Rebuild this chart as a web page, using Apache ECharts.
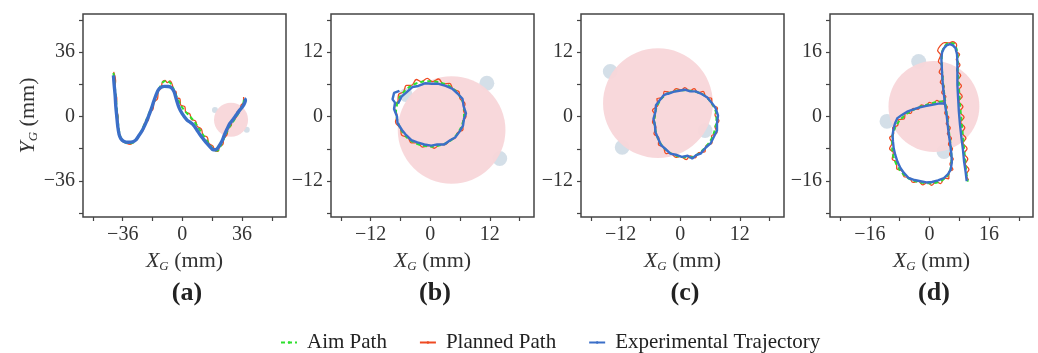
<!DOCTYPE html>
<html>
<head>
<meta charset="utf-8">
<title>trajectories</title>
<script src="https://cdn.jsdelivr.net/npm/echarts@6/dist/echarts.min.js"></script>
<style>
  html, body { margin: 0; padding: 0; background: #fff; }
  #traj-chart { width: 1038px; height: 353px; }
</style>
</head>
<body>
<div id="traj-chart"></div>
<script>
// ---- panel axes ----
var panelLabels = ["(a)", "(b)", "(c)", "(d)"];
var xRanges = [[-60, 62.6], [-20, 20.9], [-20, 20.9], [-26.7, 27.8]];
var yRanges = [[-56.2, 57.4], [-18.7, 19.1], [-18.7, 19.1], [-25, 25.5]];
var tickValues = [
  [-54, -36, -18, 0, 18, 36, 54],
  [-18, -12, -6, 0, 6, 12, 18],
  [-18, -12, -6, 0, 6, 12, 18],
  [-24, -16, -8, 0, 8, 16, 24]
];
var labelValues = [[-36, 0, 36], [-12, 0, 12], [-12, 0, 12], [-16, 0, 16]];

// ---- robot disk + wheel bumps  [x, y, radius] ----
var diskA = [[29.4, -1.8, 10.3]];
var diskB = [[4.3, -2.5, 10.85]];
var diskC = [[-4.5, 2.5, 11.06]];
var diskD = [[1.2, 2.5, 12.2]];
var bumpsA = [[19.7, 3.7, 1.8], [38.9, -7.4, 1.8]];
var bumpsB = [[11.4, 6.2, 1.5], [-4.9, 4.0, 1.4], [14.0, -7.8, 1.5]];
var bumpsC = [[-14.1, 8.4, 1.5], [-11.7, -5.7, 1.5], [5.0, -2.6, 1.5]];
var bumpsD = [[-2.9, 13.7, 2.0], [-11.4, -1.2, 2.0], [3.9, -8.7, 2.0]];

// ---- (a) ----
var aimA = [[-41.6,24.5],[-40.8,17],[-40,9],[-39.3,1],[-38.5,-6],[-37.5,-11],[-35.5,-14],[-32.5,-15],[-29.5,-14.5],[-27,-12],[-25,-8.5],[-22.5,-3.5],[-20,2],[-17.5,7.5],[-15.5,12.5],[-13.5,16.5],[-11.5,19.5],[-9.5,20],[-7.5,19],[-6,17],[-4.5,13.5],[-2.8,10],[-1,6.5],[1.6,3],[4.5,0.2],[7,-2.5],[9.5,-6],[12,-9.5],[14.5,-13],[17,-16.2],[19.3,-18.8],[21.3,-19],[22.8,-17],[24.3,-14],[26,-10.5],[28,-6.5],[30.3,-3.3],[32.7,0],[35,3.5],[36.7,6.8],[37.3,10.5]];
var plannedA = [[-41.5,25],[-40.3,20],[-41,15],[-39.6,10],[-40.2,5],[-38.8,0],[-39.3,-5],[-37.8,-10],[-36.5,-13.5],[-34,-14.8],[-31.5,-15.5],[-29,-14],[-27,-12.5],[-26,-10],[-23.5,-7.5],[-23,-4],[-20.5,-2],[-20,2],[-17.8,4],[-17,8],[-15,10],[-14.5,14],[-12.8,16],[-12,19.5],[-10.5,20.2],[-9,19],[-7.5,20],[-6,17.5],[-5.5,14.5],[-3.8,14],[-3.5,10.5],[-1.5,10],[-1,6.5],[1.5,5.5],[2,2.5],[4.5,1.5],[5.5,-1.5],[8,-2.5],[9,-5.5],[11.5,-7],[12.5,-10.5],[15,-11.5],[16,-15],[18.5,-16.5],[19.5,-19],[21.5,-19.5],[22.5,-17],[24.5,-15.5],[25,-12.5],[27,-10],[27.5,-7],[29.5,-5],[30,-2],[32.5,-0.5],[33,2.5],[35,3.5],[35.5,6.5],[37,8],[37,11]];
var expA = [[-41.6,23],[-41.2,18],[-40.6,12],[-40.2,6],[-39.6,0],[-39,-5.5],[-38.2,-10],[-37.2,-12.3],[-35.5,-13.8],[-32.6,-14.4],[-30,-14.2],[-28.2,-13.2],[-26.5,-11],[-24.5,-8.2],[-22.5,-4.5],[-20.5,0],[-18.8,4.2],[-17.3,8.4],[-15.8,12.3],[-14.4,15.1],[-12.8,16.4],[-10.8,16.9],[-8.5,16.8],[-6.6,16.1],[-5,14],[-3.6,9.5],[-2,5],[-0.2,1.8],[2.7,-1.8],[5,-3.4],[6.6,-4.6],[8.6,-7.2],[10.7,-10.2],[12.7,-12.6],[14.7,-14.9],[16.8,-17],[18.7,-18.6],[20.5,-18.4],[21.8,-17],[23.8,-14],[25.4,-10.3],[27,-7],[28.6,-4],[30.5,-1.8],[32.6,1],[34.6,3.6],[36.4,5.6],[37.6,7.6],[38.1,9.3],[37.4,10]];

// ---- (b) ----
var aimB = [[-6.6,2.6],[-6.9,1],[-6.6,-0.8],[-5.9,-2.4],[-4.8,-3.8],[-3.3,-4.8],[-1.6,-5.4],[0.3,-5.6],[2.2,-5.3],[3.9,-4.6],[5.3,-3.4],[6.3,-1.8],[6.8,0],[6.8,1.8],[6.2,3.4],[5.1,4.8],[3.6,5.8],[1.8,6.4],[-0.1,6.6],[-2,6.4],[-3.7,5.8],[-5.1,4.8],[-6.2,3.6],[-6.7,2.4]];
var plannedB = [[-6.4,2.9],[-7.2,1.6],[-6.7,0.2],[-7,-1],[-6,-2.2],[-5.8,-3.4],[-4.5,-3.9],[-3.8,-4.9],[-2.5,-4.9],[-1.6,-5.7],[-0.2,-5.4],[0.8,-5.9],[2,-5.2],[3,-5.2],[4,-4.4],[5,-4],[5.5,-3],[6.6,-2.4],[6.5,-1],[7.2,0],[6.7,1.2],[7,2.4],[6,3.3],[5.8,4.6],[4.6,5.1],[3.9,6.2],[2.6,6.1],[1.7,7],[0.4,6.5],[-0.6,7.1],[-1.8,6.5],[-2.8,6.9],[-3.8,5.8],[-4.8,5.8],[-5.4,4.6],[-6.4,4.1],[-6.5,2.8]];
var expB = [[-6.2,4.8],[-7.3,4.4],[-7.6,3.2],[-7.1,2.6],[-7.3,1.4],[-6.7,0],[-6.6,-1.2],[-5.7,-2.5],[-5,-3.3],[-3.8,-4.4],[-2.6,-4.8],[-1.2,-5.2],[0.2,-5.4],[1.4,-5.2],[2.8,-5.2],[4,-4.4],[5,-3.9],[5.9,-2.8],[6.6,-1.7],[6.8,-0.4],[7.2,0.6],[6.7,2],[6.5,3.3],[5.5,4.3],[4.4,5.2],[3.1,5.7],[1.7,6.1],[0.3,6.1],[-1.1,6.2],[-2.4,5.7],[-3.6,5.5],[-4.8,4.5],[-5.8,3.7],[-6.5,2.4]];

// ---- (c) ----
var aimC = [[-2.5,4.3],[-0.8,4.8],[0.9,4.9],[2.6,4.7],[4.2,4.3],[5.6,3.3],[6.7,1.9],[7.3,0.3],[7.2,-1.4],[6.8,-3],[6,-4.6],[4.8,-6],[3.4,-7.1],[1.8,-7.6],[0,-7.5],[-1.8,-6.9],[-3.3,-5.8],[-4.4,-4.3],[-5,-2.5],[-5.2,-0.6],[-4.9,1.3],[-4.2,2.8],[-3.3,3.8],[-2.3,4.4]];
var plannedC = [[-2.6,4.6],[-1.8,4.5],[-0.8,5.2],[0.2,4.9],[0.9,5.4],[1.9,4.8],[2.8,5.2],[3.6,4.4],[4.6,4.7],[5.2,3.6],[6.3,3.4],[6.4,2.2],[7.5,1.6],[7,0.3],[7.8,-0.8],[7,-1.8],[7.4,-3],[6.3,-3.6],[6.4,-4.9],[5.2,-5.4],[4.9,-6.6],[3.7,-6.7],[3,-7.7],[2,-7.3],[1.2,-8],[0,-7.4],[-0.9,-7.6],[-2,-6.8],[-2.9,-6.9],[-3.4,-5.7],[-4.4,-5.2],[-4.3,-4],[-5.3,-3.2],[-4.9,-2],[-5.6,-1],[-5,0.2],[-5.6,1.2],[-4.5,2.1],[-4.7,3.3],[-3.5,3.6],[-3.2,4.7],[-2.4,4.6]];
var expC = [[-2.6,4.2],[-1.4,4.6],[-0.2,4.8],[0.9,5],[2,4.7],[3.1,4.7],[4.3,4.2],[5.4,3.6],[6.4,2.5],[7.1,1.6],[7.6,0.2],[7.4,-1.2],[7.4,-2.6],[6.7,-3.9],[6.1,-5],[5.1,-5.8],[4.1,-6.9],[3.2,-7.2],[2.4,-7.8],[1.5,-7.3],[0.3,-7.5],[-0.9,-7.1],[-2,-6.9],[-3,-6],[-3.9,-5.3],[-4.5,-4],[-5,-2.9],[-5.1,-1.6],[-5.4,-0.4],[-5,0.9],[-4.9,2.1],[-4.1,3.1],[-3.3,4],[-2.5,4.3]];

// ---- (d) ----
var aimD = [[3.6,3.8],[1.8,3.6],[0,3.1],[-2,2.6],[-4,1.8],[-6.2,0.6],[-8,-1],[-9.3,-3],[-10,-5.5],[-10,-8.2],[-9.4,-10.8],[-8.2,-13],[-6.4,-14.9],[-4.2,-16],[-1.8,-16.5],[0.6,-16.6],[2.9,-16.1],[4.6,-15],[5.6,-13.3],[5.9,-11],[5.8,-8],[5.4,-5],[5,-2],[4.6,1],[4.2,4],[3.8,7],[3.5,10],[3.3,13],[3.3,15.5],[3.9,17.2],[5,18.2],[6.3,18.2],[7.2,17],[7.6,15],[7.6,12],[7.8,9],[8,6],[8.2,3],[8.5,0],[8.8,-3],[9.1,-6],[9.4,-9],[9.7,-12],[10,-14.5],[10.3,-16.2]];
var plannedD = [[4,4.2],[2.9,3.6],[2,4],[1,3.2],[0,3.5],[-1,2.6],[-2.2,2.9],[-3,1.8],[-4.4,2],[-5,0.8],[-6.4,0.9],[-6.8,-0.6],[-8.3,-0.8],[-8.5,-2.2],[-9.9,-2.8],[-9.6,-4.3],[-10.7,-5.3],[-10,-6.6],[-10.7,-8],[-9.7,-9],[-10,-10.6],[-8.8,-11.4],[-8.8,-13],[-7.4,-13.5],[-6.8,-15],[-5.4,-15.2],[-4.4,-16.4],[-3,-16.1],[-1.8,-17],[-0.6,-16.4],[0.6,-17.1],[1.8,-16.2],[3,-16.7],[4,-15.3],[5.2,-15.5],[5.2,-13.8],[6.3,-13.2],[5.5,-11.8],[6.4,-10.6],[5.4,-9.4],[6.2,-8],[5.1,-6.9],[5.9,-5.4],[4.8,-4.3],[5.6,-2.8],[4.5,-1.8],[5.2,-0.2],[4.1,0.8],[4.8,2.4],[3.7,3.3],[4.4,5],[3.3,5.9],[4,7.5],[2.9,8.5],[3.7,10],[2.6,11],[3.4,12.6],[2.4,13.7],[3,15.3],[2.2,16.4],[3,17.7],[4,18.4],[5.2,18.3],[6.2,18.6],[7.3,17.8],[7,16.4],[8.1,15.4],[7.2,14.2],[8.2,12.8],[7.3,11.6],[8.4,10.2],[7.5,9],[8.6,7.6],[7.7,6.4],[8.8,5],[7.9,3.8],[9,2.4],[8.1,1.2],[9.3,-0.2],[8.4,-1.4],[9.5,-2.8],[8.7,-4],[9.8,-5.4],[9,-6.6],[10.1,-8],[9.3,-9.2],[10.3,-10.6],[9.6,-11.8],[10.6,-13.2],[9.9,-14.4],[10.5,-15.8]];
var expD = [[3.9,3.3],[2.4,3.2],[0.7,2.9],[-1.1,2.6],[-2.9,2.2],[-4.5,1.7],[-6,1.2],[-7.4,0.4],[-8.6,-0.4],[-9.2,-1.6],[-9.6,-2.9],[-9.9,-4.6],[-9.8,-6.2],[-9.6,-7.9],[-9.2,-9.5],[-8.6,-11.2],[-7.8,-12.8],[-6.8,-14.1],[-5.6,-15.3],[-4,-15.8],[-2.4,-16.1],[-0.8,-16.4],[0.7,-16.3],[2.3,-15.9],[3.9,-15.3],[5,-14.3],[5.7,-13.2],[6,-11.4],[5.9,-9.5],[5.6,-7],[5.2,-4.5],[4.9,-2],[4.6,0.4],[4.2,2.9],[3.9,5.4],[3.6,7.9],[3.4,10.4],[3.3,12.5],[3.2,14.5],[3.4,16],[3.9,17],[4.6,17.7],[5.5,18],[6.3,17.7],[7,17],[7.4,15.5],[7.5,13.7],[7.5,10.8],[7.5,7.9],[7.7,4.5],[7.9,1.2],[8.2,-2],[8.6,-5.4],[9,-8.3],[9.3,-11.2],[9.7,-13.7],[10,-16.1]];

var aimPaths = [aimA, aimB, aimC, aimD];
var plannedPaths = [plannedA, plannedB, plannedC, plannedD];
var expPaths = [expA, expB, expC, expD];
var disks = [diskA, diskB, diskC, diskD];
var bumps = [bumpsA, bumpsB, bumpsC, bumpsD];

var gridLefts = [83, 331, 581, 830];
var serif = "Liberation Serif";
var solidIcon = "path://M0,0h16v2h-16z";
var dashIcon = "path://M0,0h5v2h-5zM10,0h5v2h-5z";

function minusFmt(v) {
  return String(v).replace("-", "\u2212");
}

// circle whose radius is given in x-axis units
function drawRound(params, api) {
  var c = api.coord([api.value(0), api.value(1)]);
  var r = api.size([api.value(2), 0])[0];
  return {
    type: "circle",
    shape: { cx: c[0], cy: c[1], r: r },
    style: { fill: api.visual("color") }
  };
}

var subRich = {
  i: { fontFamily: serif, fontStyle: "italic", fontSize: 22, color: "#333", lineHeight: 24 },
  s: { fontFamily: serif, fontStyle: "italic", fontSize: 13, color: "#333", verticalAlign: "bottom", lineHeight: 24, padding: [9, 0, 0, 0] },
  t: { fontFamily: serif, fontSize: 22, color: "#333", lineHeight: 24 }
};

var tickStyle = { color: "#444", width: 1.2 };

var grids = [], xAxes = [], yAxes = [], titles = [], series = [];
for (var i = 0; i < 4; i++) {
  grids.push({
    left: gridLefts[i], top: 14, width: 203, height: 203,
    show: true, borderColor: "#444", borderWidth: 1.5, backgroundColor: "#fff"
  });
  xAxes.push({
    type: "value", gridIndex: i,
    min: xRanges[i][0], max: xRanges[i][1],
    name: "{i|X}{s|G}{t| (mm)}", nameLocation: "middle", nameGap: 29,
    nameTextStyle: { rich: subRich },
    axisLine: { show: false, onZero: false },
    axisTick: { show: true, length: 4, customValues: tickValues[i], lineStyle: tickStyle },
    axisLabel: { customValues: labelValues[i], formatter: minusFmt, margin: 8, color: "#333", fontFamily: serif, fontSize: 20 },
    splitLine: { show: false }
  });
  yAxes.push({
    type: "value", gridIndex: i,
    min: yRanges[i][0], max: yRanges[i][1],
    name: i === 0 ? "{i|Y}{s|G}{t| (mm)}" : "",
    nameLocation: "middle", nameGap: 43, nameRotate: 90,
    nameTextStyle: { rich: subRich },
    axisLine: { show: false, onZero: false },
    axisTick: { show: true, length: 4, customValues: tickValues[i], lineStyle: tickStyle },
    axisLabel: { customValues: labelValues[i], formatter: minusFmt, margin: 8, color: "#333", fontFamily: serif, fontSize: 20 },
    splitLine: { show: false }
  });
  titles.push({
    text: panelLabels[i],
    left: gridLefts[i] + 99, top: 275, textAlign: "center",
    textStyle: { fontFamily: serif, fontWeight: "bold", fontSize: 26, color: "#222" }
  });
  series.push({
    type: "custom", name: "wheel", xAxisIndex: i, yAxisIndex: i,
    renderItem: drawRound, data: bumps[i], silent: true,
    itemStyle: { color: "rgba(204,217,228,0.85)" }, z: 1
  });
  series.push({
    type: "custom", name: "robot", xAxisIndex: i, yAxisIndex: i,
    renderItem: drawRound, data: disks[i], silent: true,
    itemStyle: { color: "rgba(248,214,217,0.95)" }, z: 2
  });
  series.push({
    type: "line", name: "Planned Path", xAxisIndex: i, yAxisIndex: i,
    data: plannedPaths[i], symbol: "none", smooth: 0.4, z: 3,
    legendIcon: solidIcon,
    lineStyle: { color: "#ee4a22", width: 1.3 }, itemStyle: { color: "#ee4a22" }
  });
  series.push({
    type: "line", name: "Aim Path", xAxisIndex: i, yAxisIndex: i,
    data: aimPaths[i], symbol: "none", smooth: 0.3, z: 4,
    legendIcon: dashIcon,
    lineStyle: { color: "#2ee02e", width: 2, type: [4, 3] }, itemStyle: { color: "#2ee02e" }
  });
  series.push({
    type: "line", name: "Experimental Trajectory", xAxisIndex: i, yAxisIndex: i,
    data: expPaths[i], symbol: "none", smooth: i === 0 ? 0.3 : false, z: 5,
    legendIcon: solidIcon,
    lineStyle: { color: "#3b6fc8", width: i === 0 ? 3.4 : 2.4 }, itemStyle: { color: "#3b6fc8" }
  });
}

var chartTraj = echarts.init(document.getElementById("traj-chart"));
chartTraj.setOption({
  animation: false,
  backgroundColor: "#fff",
  title: titles,
  grid: grids,
  xAxis: xAxes,
  yAxis: yAxes,
  legend: {
    data: ["Aim Path", "Planned Path", "Experimental Trajectory"],
    left: 275, top: 327,
    itemWidth: 16, itemHeight: 3, itemGap: 32,
    symbolKeepAspect: false,
    itemStyle: { borderWidth: 0 },
    textStyle: { fontFamily: serif, fontSize: 21, color: "#222", padding: [0, 0, 0, 5] }
  },
  series: series
});
window.addEventListener("resize", function() {
  chartTraj.resize();
});
</script>
</body>
</html>
